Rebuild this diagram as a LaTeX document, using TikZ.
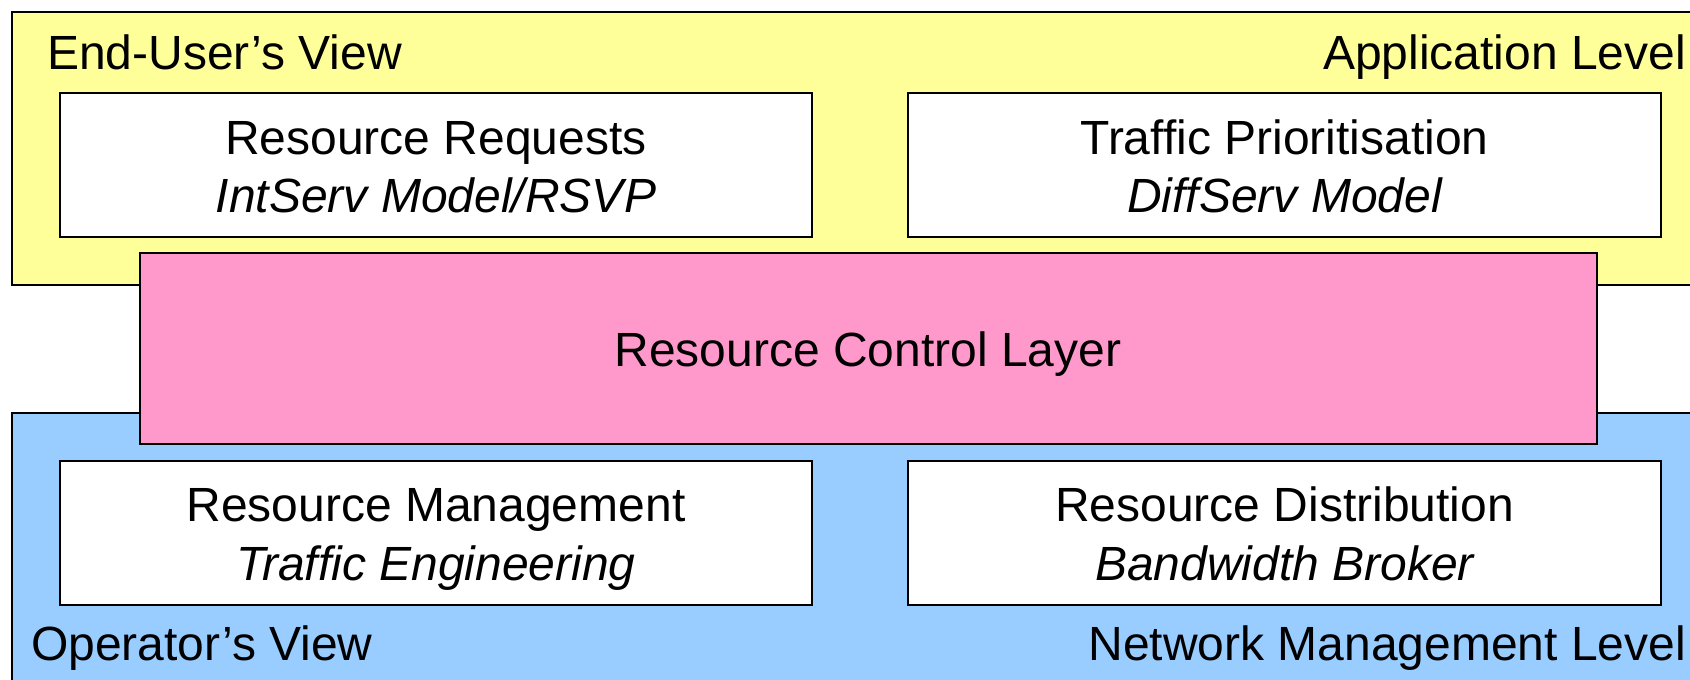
\documentclass[tikz,border=0pt]{standalone}
\usepackage{fontspec}
\setmainfont{Liberation Sans}
\definecolor{appyellow}{HTML}{FFFF99}
\definecolor{netblue}{HTML}{99CCFF}
\definecolor{ctrlpink}{HTML}{FF99CC}
\begin{document}
\begin{tikzpicture}[x=1pt,y=-1pt,
  every node/.style={inner sep=0pt,outer sep=0pt},
  layer/.style={draw=black,line width=2pt},
  wbox/.style={draw=black,line width=2pt,fill=white,
    minimum width=752pt,minimum height=144pt},
  lbl/.style={font=\fontsize{48}{58}\selectfont},
  btxt/.style={font=\fontsize{48}{58}\selectfont,anchor=base}
]
\clip (0,0) rectangle (1690,680);
\fill[white] (0,0) rectangle (1690,680);
% layers
\node[layer,fill=appyellow,minimum width=1700pt,minimum height=273pt,anchor=north west] (app) at (12,12) {};
\node[layer,fill=netblue,minimum width=1700pt,minimum height=300pt,anchor=north west] (net) at (12,413) {};
\node[layer,fill=ctrlpink,minimum width=1457pt,minimum height=191pt,anchor=north west] (ctrl) at (140,253) {};
\node[btxt] (ctrltxt) at (868,366) {Resource Control Layer};
% labels
\node[lbl,anchor=base west] (euv) at (47,69) {End-User’s View};
\node[lbl,anchor=base east] (al) at (1686,69) {Application Level};
\node[lbl,anchor=base west] (opv) at (31,660) {Operator’s View};
\node[lbl,anchor=base east] (nml) at (1686,660) {Network Management Level};
% boxes
\node[wbox] (rr) at (436,165) {};
\node[wbox,minimum width=753pt] (tp) at (1284.5,165) {};
\node[wbox] (rm) at (436,533) {};
\node[wbox,minimum width=753pt] (rd) at (1284.5,533) {};
\node[btxt] (rr1) at (436,154) {Resource Requests};
\node[btxt] (rr2) at (436,212) {\itshape IntServ Model/RSVP};
\node[btxt] (tp1) at (1284.5,154) {Traffic Prioritisation};
\node[btxt] (tp2) at (1284.5,212) {\itshape DiffServ Model};
\node[btxt] (rm1) at (436,521) {Resource Management};
\node[btxt] (rm2) at (436,580) {\itshape Traffic Engineering};
\node[btxt] (rd1) at (1284.5,521) {Resource Distribution};
\node[btxt] (rd2) at (1284.5,580) {\itshape Bandwidth Broker};
\end{tikzpicture}
\end{document}
